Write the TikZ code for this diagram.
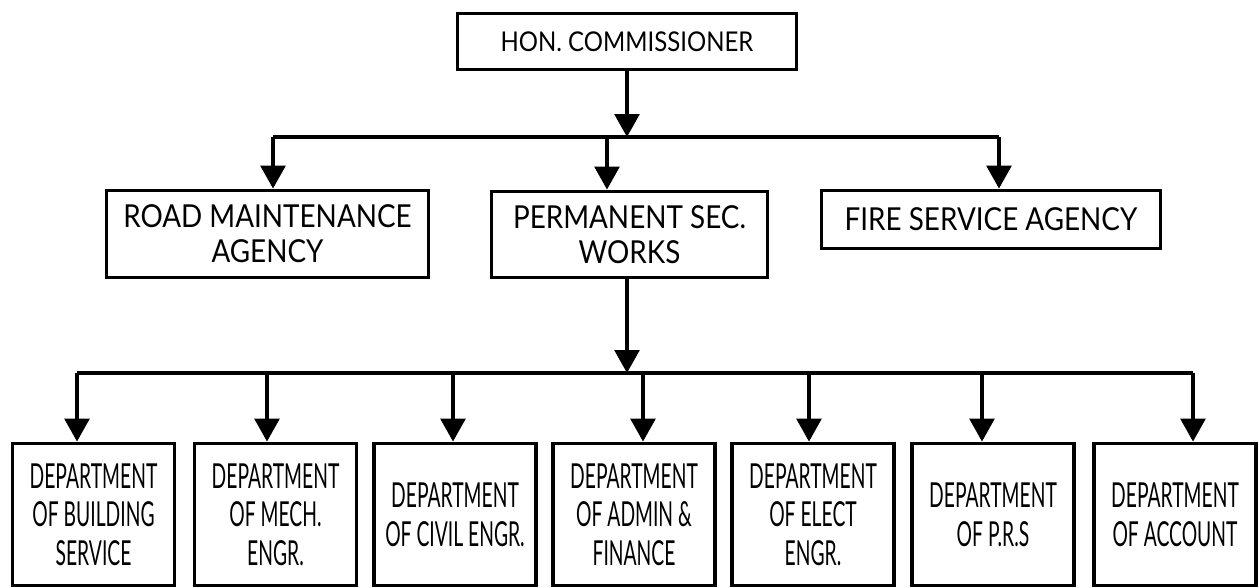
\documentclass[tikz,border=0pt]{standalone}
\usepackage{fontspec}
\setmainfont{Lato}[FakeStretch=0.88]
\newfontfamily\deptfont{Lato}[FakeStretch=0.56]
\usetikzlibrary{arrows.meta}

\begin{document}
\begin{tikzpicture}[x = 0.02cm, y = -0.02cm, line width = 2pt,
    box/.style = {draw, line width = 2.2pt, align = center, inner sep = 0pt},
    head/.style = {box, minimum width = 6.44cm, minimum height = 1.74cm,
        font = \fontsize{18}{20}\selectfont},
    dept/.style = {box, minimum width = 3.24cm, minimum height = 2.84cm,
        font = \deptfont\fontsize{19.6}{22}\selectfont},
    link/.style = {-{Triangle[width = 14pt, length = 13pt]}}]
    \useasboundingbox (0,0) rectangle (1259,588);

    % commissioner and the three under him
    \node[box, minimum width = 6.78cm, minimum height = 1.12cm,
        font = \fontsize{15.5}{18}\selectfont] (hon) at (627,41.5) {HON. COMMISSIONER};
    \node[head] (road) at (267.5,234) {ROAD MAINTENANCE\\AGENCY};
    \node[head, minimum width = 5.52cm, minimum height = 1.72cm] (perm) at (629.5,234.5) {PERMANENT SEC.\\WORKS};
    \node[head, minimum width = 6.78cm, minimum height = 1.16cm] (fire) at (991,219.5) {FIRE SERVICE AGENCY};

    \coordinate (road-in) at (273,137);
    \coordinate (perm-in) at (607,137);
    \coordinate (fire-in) at (999,137);
    \draw (road-in) -- (fire-in);
    \draw[link] (hon) -- (hon |- road-in);
    \foreach \name in {road, perm, fire}
        \draw[link] (\name-in) -- (\name-in |- \name.north);

    % departments
    \coordinate (lowbus) at (627,373);
    \draw[link] (perm.south -| lowbus) -- (lowbus);
    \foreach \name/\cx/\ax/\txt in {
        bldg/93.5/77/{DEPARTMENT\\OF BUILDING\\SERVICE},
        mech/275.5/267/{DEPARTMENT\\OF MECH.\\ENGR.},
        civil/455/453/{DEPARTMENT\\OF CIVIL ENGR.},
        admin/634/643/{DEPARTMENT\\OF ADMIN \&\\FINANCE},
        elect/813/809/{DEPARTMENT\\OF ELECT\\ENGR.},
        prs/993/982/{DEPARTMENT\\OF P.R.S},
        acct/1175/1193/{DEPARTMENT\\OF ACCOUNT}}
    {
        \node[dept] (\name) at (\cx,514.5) {\txt};
        \coordinate (\name-in) at (\ax,373);
        \draw[link] (\name-in) -- (\name-in |- \name.north);
    }
    \draw (bldg-in) -- (acct-in);
\end{tikzpicture}
\end{document}
